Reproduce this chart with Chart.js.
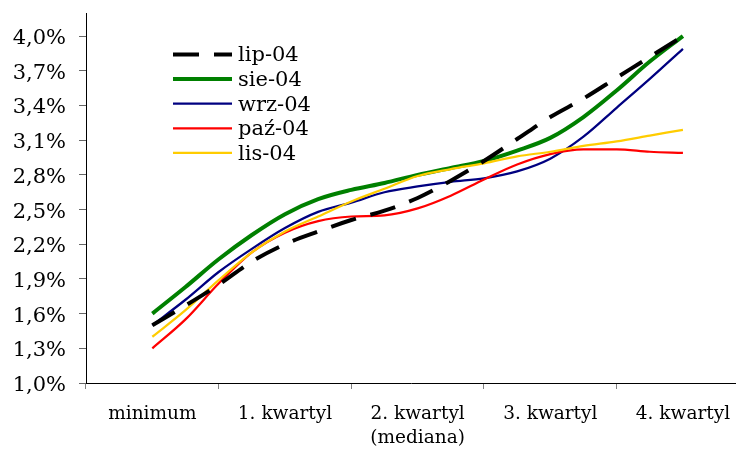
<!DOCTYPE html>
<html>
<head>
<meta charset="utf-8">
<script src="https://cdn.jsdelivr.net/npm/chart.js@4"></script>
<style>
  html, body { margin: 0; padding: 0; background: #fff; }
  canvas { display: block; }
</style>
</head>
<body>
<canvas id="c" width="736" height="451"></canvas>
<script>
// ---- data ----
const categories = ['minimum', '1. kwartyl', '2. kwartyl\n(mediana)', '3. kwartyl', '4. kwartyl'];
const yTicks = [1.0, 1.3, 1.6, 1.9, 2.2, 2.5, 2.8, 3.1, 3.4, 3.7, 4.0];
const seriesLabels = ['lip-04', 'sie-04', 'wrz-04', 'paź-04', 'lis-04'];
// values read every quarter of a category step (minimum ... 4. kwartyl)
const stepsPerCategory = 4;
const lip04 = [1.50, 1.67, 1.85, 2.05, 2.20, 2.31, 2.41, 2.49, 2.60, 2.75, 2.92, 3.11, 3.30, 3.46, 3.64, 3.82, 4.00];
const sie04 = [1.60, 1.83, 2.07, 2.28, 2.46, 2.59, 2.67, 2.73, 2.80, 2.86, 2.92, 3.01, 3.12, 3.30, 3.53, 3.78, 4.00];
const wrz04 = [1.50, 1.72, 1.96, 2.16, 2.34, 2.48, 2.56, 2.65, 2.70, 2.74, 2.77, 2.83, 2.94, 3.13, 3.38, 3.63, 3.89];
const paz04 = [1.30, 1.55, 1.86, 2.13, 2.30, 2.40, 2.44, 2.45, 2.51, 2.62, 2.76, 2.89, 2.98, 3.02, 3.02, 3.00, 2.99];
const lis04 = [1.40, 1.63, 1.89, 2.13, 2.31, 2.44, 2.57, 2.68, 2.79, 2.85, 2.90, 2.96, 3.00, 3.05, 3.09, 3.14, 3.19];

const toPoints = arr => arr.map((v, i) => ({ x: i / stepsPerCategory, y: v }));

const FONT = '"DejaVu Serif", "Liberation Serif", serif';

const inlineLegend = {
  id: 'inlineLegend',
  afterDraw(chart) {
    const ctx = chart.ctx;
    const items = chart.data.datasets.map((d, i) => i);
    items.forEach((i, row) => {
      const ds = chart.data.datasets[i];
      const y = 54.5 + row * 24.6;
      ctx.save();
      ctx.strokeStyle = ds.borderColor;
      ctx.lineWidth = ds.borderWidth;
      ctx.setLineDash(ds.borderDash || []);
      ctx.lineCap = 'butt';
      ctx.beginPath();
      ctx.moveTo(173, y);
      ctx.lineTo(232, y);
      ctx.stroke();
      ctx.setLineDash([]);
      ctx.fillStyle = '#000';
      ctx.font = '21px ' + FONT;
      ctx.textBaseline = 'middle';
      ctx.textAlign = 'left';
      ctx.fillText(ds.label, 238, y + 1.5);
      ctx.restore();
    });
  }
};

new Chart(document.getElementById('c'), {
  type: 'line',
  data: {
    datasets: [
      { label: seriesLabels[0], data: toPoints(lip04), borderColor: '#000000', borderWidth: 4, borderDash: [26, 15], order: 0 },
      { label: seriesLabels[1], data: toPoints(sie04), borderColor: '#008000', borderWidth: 4, order: 4 },
      { label: seriesLabels[2], data: toPoints(wrz04), borderColor: '#000080', borderWidth: 2.25, order: 3 },
      { label: seriesLabels[3], data: toPoints(paz04), borderColor: '#FF0000', borderWidth: 2.25, order: 2 },
      { label: seriesLabels[4], data: toPoints(lis04), borderColor: '#FFCC00', borderWidth: 2.25, order: 1 }
    ]
  },
  options: {
    responsive: false,
    animation: false,
    devicePixelRatio: 1,
    layout: { padding: { top: 13, left: 0, right: 0, bottom: 0 } },
    elements: {
      point: { radius: 0, hoverRadius: 0 },
      line: { cubicInterpolationMode: 'monotone', fill: false, borderCapStyle: 'butt' }
    },
    plugins: {
      legend: { display: false },
      tooltip: { enabled: false }
    },
    scales: {
      x: {
        type: 'linear',
        min: -0.5,
        max: 4.4,
        afterBuildTicks: s => { s.ticks = categories.map((c, i) => ({ value: i })); },
        afterFit: s => { s.height = 68; s.paddingLeft = 0; s.paddingRight = 0; },
        grid: { offset: true, drawOnChartArea: false, drawTicks: true, tickLength: 6, color: '#808080', lineWidth: 1 },
        border: { display: true, color: '#000', width: 1 },
        ticks: {
          autoSkip: false,
          maxRotation: 0,
          minRotation: 0,
          padding: 13,
          color: '#000',
          font: { family: FONT, size: 18.5, lineHeight: 1.3 },
          callback: v => (categories[v] || '').split('\n')
        }
      },
      y: {
        type: 'linear',
        min: 1.0,
        max: 4.2,
        afterBuildTicks: s => { s.ticks = yTicks.map(v => ({ value: v })); },
        afterFit: s => { s.width = 86; s.paddingTop = 0; s.paddingBottom = 0; },
        grid: { drawOnChartArea: false, drawTicks: true, tickLength: 7, color: '#666', lineWidth: 1 },
        border: { display: true, color: '#000', width: 1 },
        ticks: {
          padding: 13,
          labelOffset: 2.5,
          color: '#000',
          font: { family: FONT, size: 21 },
          callback: v => v.toFixed(1).replace('.', ',') + '%'
        }
      }
    }
  },
  plugins: [inlineLegend]
});
</script>
</body>
</html>
